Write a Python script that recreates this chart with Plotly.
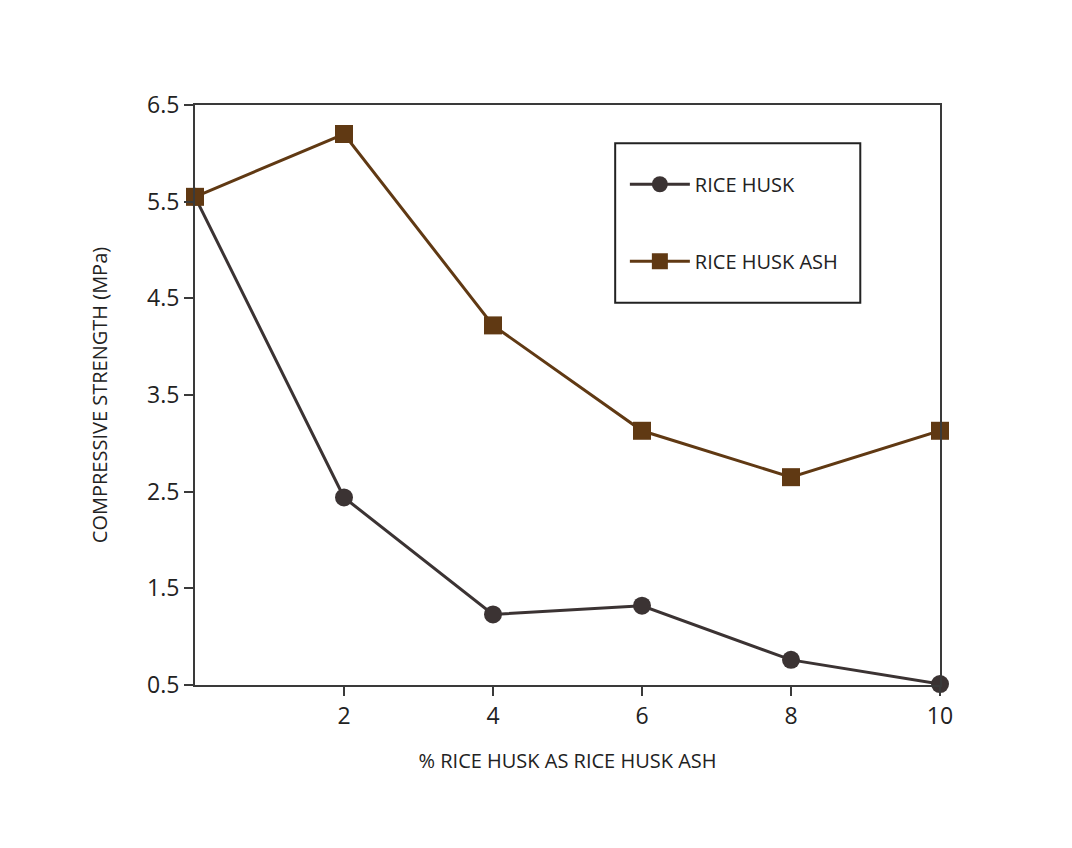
import plotly.graph_objects as go

# % rice husk replaced
pct = [0, 2, 4, 6, 8, 10]
# compressive strength (MPa)
rice_husk = [5.55, 2.44, 1.23, 1.32, 0.76, 0.51]
rice_husk_ash = [5.55, 6.20, 4.22, 3.13, 2.65, 3.13]

y_ticks = [0.5, 1.5, 2.5, 3.5, 4.5, 5.5, 6.5]
x_ticks = [2, 4, 6, 8, 10]

FONT = "Open Sans"

fig = go.Figure()
fig.add_trace(go.Scatter(
    x=pct, y=rice_husk, mode="lines+markers", name="RICE HUSK",
    line=dict(color="#3b3333", width=3),
    marker=dict(symbol="circle", size=18, color="#3b3333"),
    legendgroup="a", cliponaxis=False,
))
fig.add_trace(go.Scatter(
    x=pct, y=rice_husk_ash, mode="lines+markers", name="RICE HUSK ASH",
    line=dict(color="#603913", width=3),
    marker=dict(symbol="square", size=18, color="#603913"),
    legendgroup="b", cliponaxis=False,
))

axis_common = dict(
    showline=True, linecolor="#3a3a3a", linewidth=2, mirror=True,
    showgrid=False, zeroline=False, ticks="outside", ticklen=9,
    tickcolor="#3a3a3a", tickwidth=2,
    tickfont=dict(family=FONT, size=23, color="#222"),
)

fig.update_xaxes(
    range=[0, 10], tickvals=x_ticks,
    title=dict(text="% RICE HUSK AS RICE HUSK ASH",
               font=dict(family=FONT, size=20, color="#222"), standoff=24),
    **axis_common,
)
fig.update_yaxes(
    range=[0.5, 6.5], tickvals=y_ticks, ticktext=[str(v) for v in y_ticks],
    title=dict(text="COMPRESSIVE STRENGTH (MPa)",
               font=dict(family=FONT, size=20, color="#222"), standoff=34),
    **axis_common,
)

# legend frame
fig.add_shape(type="rect", xref="paper", yref="paper",
              x0=0.564, x1=0.893, y0=0.659, y1=0.934,
              line=dict(color="#222", width=2), fillcolor="white", layer="below")

fig.update_layout(
    width=1072, height=848,
    margin=dict(l=187, r=140, t=97, b=171),
    paper_bgcolor="white", plot_bgcolor="rgba(0,0,0,0)",
    font=dict(family=FONT),
    legend=dict(
        x=0.577, y=0.897, xanchor="left", yanchor="top",
        borderwidth=0, bgcolor="rgba(0,0,0,0)",
        font=dict(family=FONT, size=20, color="#222"),
        traceorder="grouped", tracegroupgap=48, itemwidth=60,
    ),
)

fig.write_html("out.html")
